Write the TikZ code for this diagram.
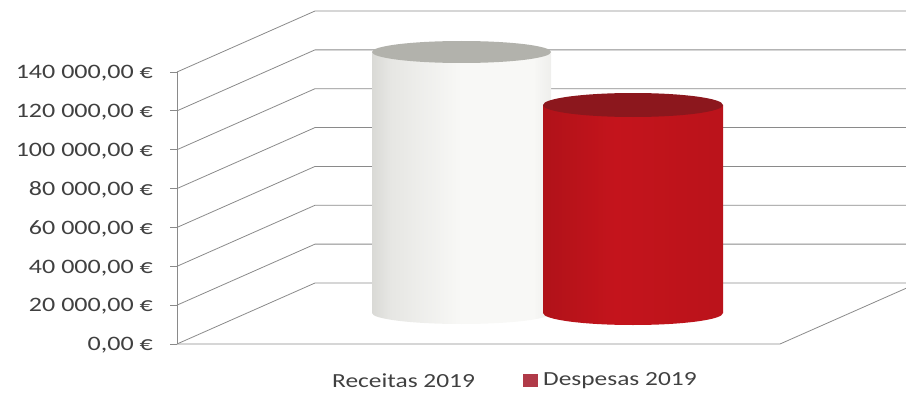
\documentclass[tikz,border=0pt]{standalone}
\usepackage{fontspec}
\setmainfont{Carlito}[FakeStretch=1.27]
\definecolor{gridc}{HTML}{8A8A8A}
\definecolor{txtc}{HTML}{404040}
\definecolor{wedgeL}{HTML}{8A8A85}
\definecolor{wmidL}{HTML}{B8B8B3}
\definecolor{wlight}{HTML}{E6E6E3}
\definecolor{wwhite}{HTML}{F8F8F6}
\definecolor{wmidR}{HTML}{D6D6D2}
\definecolor{wedgeR}{HTML}{BDBDB8}
\definecolor{wtop}{HTML}{B2B2AC}
\definecolor{redL}{HTML}{780C12}
\definecolor{redM}{HTML}{C4141C}
\definecolor{redR}{HTML}{8A0E14}
\definecolor{redtop}{HTML}{8C171D}
\definecolor{legred}{HTML}{B03A48}
\pgfdeclarehorizontalshading{wcyl}{100bp}{color(0bp)=(wedgeL); color(12bp)=(wmidL); color(30bp)=(wlight); color(50bp)=(wwhite); color(70bp)=(wwhite); color(88bp)=(wmidR); color(100bp)=(wedgeR)}
\pgfdeclarehorizontalshading{rcyl}{100bp}{color(0bp)=(redL); color(15bp)=(redM!85!black); color(45bp)=(redM); color(75bp)=(redM!95!black); color(100bp)=(redR)}
\begin{document}
\begin{tikzpicture}[x=1pt,y=1pt,
  grid/.style={draw=gridc,line width=0.8pt},
  ylab/.style={anchor=east,text=txtc,font=\fontsize{20.5}{24}\selectfont,inner sep=0pt},
  leg/.style={anchor=west,text=txtc,font=\fontsize{20}{24}\selectfont,inner sep=0pt}]
\useasboundingbox (0,0) rectangle (906,392);
\clip (0,0) rectangle (906,392);
% side wall, back wall, ticks
\foreach \i/\lab in {0/{0,00 €},1/{20 000,00 €},2/{40 000,00 €},3/{60 000,00 €},4/{80 000,00 €},5/{100 000,00 €},6/{120 000,00 €},7/{140 000,00 €}}{
  \pgfmathsetmacro{\Y}{48+38.857*\i}
  \coordinate (f\i) at (177,\Y);
  \coordinate (b\i) at (315,\Y+61);
  \coordinate (e\i) at (920,\Y+61);
  \draw[grid] (f\i) -- (b\i) -- (e\i);
  \draw[grid] (170,\Y) -- (f\i);
  \node[ylab] (lab\i) at (153,\Y-1.5) {\lab};
}
\draw[grid] (f0) -- (f7);
\coordinate (fr) at (780,48);
\coordinate (fre) at (918,109);
\draw[grid] (f0) -- (fr) -- (fre);
% white cylinder (Receitas)
\path[shading=wcyl] (372,340) -- (372,79) arc[start angle=180,end angle=360,x radius=89.5,y radius=11] -- (551,340) -- cycle;
\fill[wtop] (461.5,340) ellipse[x radius=89.5,y radius=11];
% red cylinder (Despesas)
\path[shading=rcyl] (543,287) -- (543,79) arc[start angle=180,end angle=360,x radius=90,y radius=12] -- (723,287) -- cycle;
\fill[redtop] (633,287) ellipse[x radius=90,y radius=12];
% legend
\node[leg] (rec) at (332,11) {Receitas 2019};
\fill[legred] (523,5) rectangle (538,18);
\node[leg] (des) at (543,11) {Despesas 2019};
\end{tikzpicture}
\end{document}
